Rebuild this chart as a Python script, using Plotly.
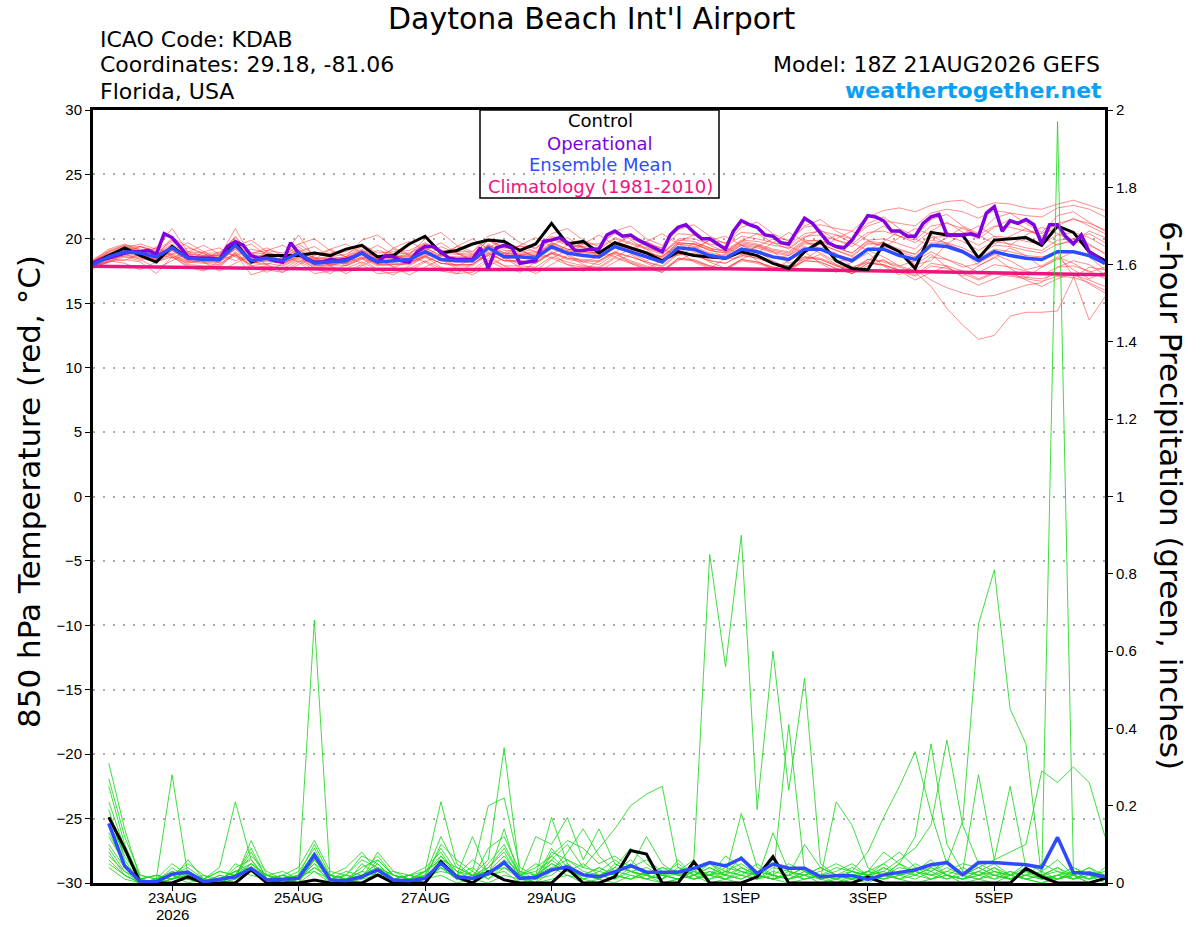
import pandas as pd
import plotly.graph_objects as go

# time axes: GEFS 6-hourly, operational GFS 3-hourly, both from 18Z 21AUG2026
times = pd.date_range("2026-08-21 18:00", periods=65, freq="6h")
times_3h = pd.date_range("2026-08-21 18:00", periods=129, freq="3h")
precip_times = times[1:]  # first 6-h accumulation ends at 00Z 22AUG

tick_dates = ["2026-08-23", "2026-08-25", "2026-08-27", "2026-08-29", "2026-09-01", "2026-09-03", "2026-09-05"]
tick_names = ["23AUG", "25AUG", "27AUG", "29AUG", "1SEP", "3SEP", "5SEP"]
year_label = "2026"

# 850 hPa temperature (C)
control_temp = [18.1,18.7,19.3,18.7,18.2,19.4,18.5,18.5,18.4,19.7, 18.2,18.7,18.7,18.7,18.9,18.7,19.2,19.5,18.6,18.7,
                19.6,20.2,18.9,19.1,19.6,19.9,19.8,19.1,19.6,21.2, 19.6,19.8,18.9,19.7,19.3,18.9,18.3,19.0,18.7,18.6,
                18.5,19.0,18.7,18.1,17.7,19.0,19.8,18.3,17.7,17.6, 19.6,19.0,17.7,20.5,20.3,20.3,18.5,19.9,20.0,20.1,
                19.5,21.0,20.5,19.0,18.3]
mean_temp = [18.0,18.6,19.0,18.9,18.6,19.3,18.5,18.4,18.4,19.5, 18.3,18.5,18.3,18.9,18.1,18.2,18.3,18.9,18.2,18.3,
             18.4,19.0,18.4,18.3,18.3,19.3,18.6,18.6,18.5,19.4, 18.9,18.7,18.6,19.4,19.0,18.6,18.2,19.3,19.2,18.7,
             18.5,19.2,19.0,18.6,18.4,19.2,19.2,18.7,18.3,19.2, 19.2,18.7,18.4,19.5,19.4,19.0,18.3,19.0,18.7,18.5,
             18.4,19.0,19.0,18.7,18.1]
climo_temp = [17.88,17.86,17.84,17.82,17.80,17.78,17.77,17.75,17.73,17.72, 17.70,17.69,17.68,17.67,17.66,17.65,17.64,17.63,17.62,17.62,
              17.61,17.61,17.60,17.60,17.60,17.61,17.61,17.62,17.63,17.64, 17.66,17.67,17.68,17.69,17.70,17.70,17.70,17.70,17.69,17.68,
              17.67,17.66,17.65,17.63,17.62,17.60,17.58,17.56,17.54,17.52, 17.50,17.48,17.46,17.44,17.42,17.40,17.38,17.36,17.34,17.32,
              17.30,17.28,17.26,17.24,17.22]
oper_temp = [18.1,18.4,18.5,18.7,18.9,19.0,19.0,19.1,18.8,20.4, 20.1,19.4,18.6,18.5,18.5,18.5,18.4,19.4,19.8,19.5,
             18.7,18.5,18.5,18.3,18.2,19.7,18.9,18.4,18.2,18.2, 18.4,18.3,18.4,18.6,18.9,18.5,18.2,18.7,18.6,18.3,
             18.2,19.0,19.4,19.4,19.0,18.5,18.4,18.4,18.4,19.3, 17.7,19.3,19.5,19.3,18.1,18.2,18.3,19.8,19.9,20.1,
             19.7,19.1,19.1,19.2,
             19.2,20.3,20.6,20.2,20.3,19.9,19.6,19.3,19.0,20.3, 20.9,21.1,20.5,20.0,20.0,19.6,19.2,20.6,21.4,21.1,
             20.9,20.3,20.2,19.7,19.6,20.6,21.6,21.2,20.5,19.7, 19.4,19.3,19.9,20.9,21.8,21.7,21.4,20.6,20.6,20.2,
             20.2,21.2,21.7,21.9,20.3,20.3,20.3,20.4,20.2,22.0, 22.5,20.6,21.4,21.2,21.5,21.1,19.6,21.1,21.1,20.2,
             19.6,20.3,19.0,18.6,18.1]

red_01 = [18.3,19.0,19.4,19.2,18.9,19.8,18.9,18.6,18.8,20.2,18.8,18.9,18.7,19.4,18.5,18.6,18.8,19.5,18.7,18.8,18.9,19.6,19.0,18.9,18.8,19.9,19.3,19.2,19.0,20.1,19.6,19.4,19.3,20.1,19.7,19.3,18.9,20.0,20.0,19.6,19.4,20.2,20.0,19.7,19.5,20.4,20.6,20.3,20.0,21.0,21.4,21.2,21.0,22.0,22.3,22.1,21.6,22.2,22.0,21.8,21.7,22.4,22.6,22.3,21.7]
red_02 = [17.8,18.3,18.7,18.6,18.3,18.9,18.2,18.1,18.0,19.0,17.9,18.1,17.9,18.4,17.8,17.9,17.9,18.5,17.9,18.0,18.0,18.6,18.1,17.9,17.9,18.8,18.3,18.2,18.1,18.9,18.5,18.3,18.2,18.9,18.6,18.2,17.8,18.8,18.7,18.3,18.1,18.8,18.5,18.1,17.9,18.6,18.5,18.0,17.7,18.4,18.2,17.8,17.4,16.3,14.6,13.3,12.2,12.5,14.0,14.3,14.3,14.4,17.0,17.8,17.6]
red_03 = [18.1,18.8,19.1,19.0,18.5,19.4,18.7,18.5,18.5,19.6,18.5,18.6,18.4,19.0,18.3,18.4,18.5,19.1,18.5,18.6,18.6,19.3,18.7,18.5,18.6,19.5,18.9,18.8,18.7,19.7,19.2,19.0,18.9,19.7,19.3,18.9,18.6,19.7,19.6,19.1,18.9,19.6,19.4,19.0,18.8,19.7,19.6,19.1,18.7,19.7,19.5,19.0,18.6,19.7,19.6,19.1,18.5,19.2,19.0,18.7,18.6,18.9,17.1,13.7,15.5]
red_04 = [17.9,18.4,18.8,18.7,18.4,19.1,18.3,18.2,18.2,19.2,18.1,18.3,18.1,18.6,17.9,18.0,18.1,18.6,18.0,18.0,18.1,18.7,18.1,18.0,18.0,18.9,18.3,18.3,18.2,19.0,18.5,18.4,18.3,19.0,18.6,18.2,17.9,18.9,18.8,18.3,18.1,18.7,18.5,18.1,17.9,18.6,18.4,17.9,17.6,18.2,17.9,17.6,17.6,16.8,16.2,15.8,15.5,15.6,16.0,16.4,16.6,17.8,18.3,18.0,17.2]
red_05 = [18.4,19.1,19.5,19.4,19.1,19.9,19.0,18.9,18.9,20.1,18.9,19.1,18.9,19.6,18.8,18.9,19.0,19.6,18.9,19.0,19.1,19.7,19.1,19.0,19.0,20.0,19.3,19.4,19.3,20.2,19.8,19.6,19.6,20.4,20.0,19.6,19.3,20.4,20.3,19.9,19.7,20.5,20.4,20.1,19.9,20.9,21.1,20.8,20.6,21.7,22.2,22.4,22.1,22.6,22.9,23.0,22.4,22.8,22.7,22.4,22.3,22.7,23.0,22.6,22.2]
red_06 = [18.2,18.9,19.3,19.1,18.8,19.6,18.8,18.7,18.7,19.8,18.6,18.8,18.6,19.2,18.4,18.5,18.6,19.2,18.5,18.6,18.7,19.3,18.7,18.6,18.6,19.6,18.9,18.9,18.8,19.7,19.2,19.0,18.9,19.8,19.4,19.0,18.6,19.7,19.6,19.1,18.9,19.7,19.5,19.1,18.9,19.8,19.9,19.3,18.9,19.9,20.0,19.6,19.2,20.4,20.5,20.1,19.5,20.2,20.1,19.8,19.6,20.3,20.5,20.1,19.4]
red_07 = [17.7,18.2,18.6,18.5,18.2,18.8,18.0,17.9,17.9,18.9,17.7,17.9,17.7,18.3,17.6,17.6,17.7,18.2,17.6,17.7,17.7,18.3,17.7,17.6,17.6,18.5,17.9,17.9,17.8,18.6,18.2,17.9,17.8,18.6,18.2,17.8,17.4,18.4,18.3,17.8,17.6,18.3,18.1,17.7,17.5,18.3,18.2,17.7,17.3,18.1,18.0,17.5,17.2,18.1,17.9,17.5,16.9,17.4,17.2,17.0,16.9,17.3,17.2,16.8,16.3]
red_08 = [18.3,18.8,19.3,19.6,19.2,20.8,19.0,18.7,18.6,20.8,18.6,18.7,18.6,20.3,18.5,18.4,18.6,19.4,18.5,18.6,18.8,19.6,18.9,18.8,18.7,19.9,19.1,19.0,18.9,20.0,19.5,19.3,19.2,20.0,19.6,19.2,18.8,19.9,19.8,19.3,19.0,19.8,19.6,19.2,19.0,19.9,19.8,19.3,18.9,19.8,19.7,19.2,18.8,19.9,19.7,19.3,18.7,19.5,19.4,19.1,18.9,19.6,19.8,19.5,18.9]
red_09 = [17.8,18.2,18.4,18.2,17.3,18.6,17.9,17.6,17.8,18.9,17.2,17.6,17.4,18.2,17.3,17.5,17.5,18.0,17.3,17.4,17.5,18.2,17.5,17.3,17.4,18.3,17.7,17.7,17.5,18.5,18.0,17.8,17.7,18.5,18.1,17.7,17.4,18.5,18.3,17.9,17.6,18.4,18.2,17.8,17.6,18.5,18.4,17.9,17.5,18.4,18.3,17.9,17.5,18.6,18.4,18.0,17.4,18.0,17.8,17.5,17.2,17.8,17.9,17.5,16.9]
red_10 = [18.0,18.7,19.2,19.0,18.7,19.5,18.6,18.6,18.5,19.7,18.4,18.7,18.4,19.0,18.2,18.3,18.5,19.1,18.4,18.5,18.6,19.2,18.5,18.4,18.5,19.5,18.8,18.8,18.7,19.6,19.1,18.9,18.8,19.6,19.2,18.8,18.4,19.6,19.4,18.9,18.7,19.5,19.3,18.9,18.7,19.6,19.6,19.1,18.6,19.6,19.6,19.1,18.8,20.1,20.2,19.8,19.1,19.8,19.6,19.3,19.1,19.9,20.0,19.6,18.8]
red_11 = [18.1,18.6,19.0,18.8,18.5,19.3,18.4,18.3,18.3,19.4,18.2,18.4,18.2,18.8,18.0,18.1,18.2,18.8,18.1,18.2,18.3,19.0,18.3,18.2,18.2,19.2,18.5,18.5,18.4,19.4,18.9,18.7,18.6,19.5,19.2,18.8,18.5,19.6,19.6,19.2,19.1,19.9,19.8,19.5,19.3,20.2,20.3,19.9,19.6,20.5,20.6,20.2,19.9,21.0,21.2,20.8,20.3,21.0,20.9,20.6,20.4,21.2,21.5,21.2,20.7]
red_12 = [17.9,18.5,18.9,18.8,18.4,19.1,18.3,18.2,18.2,19.3,18.1,18.3,18.1,18.7,17.9,18.0,18.1,18.6,18.0,18.1,18.1,18.7,18.1,18.0,18.0,18.9,18.3,18.3,18.1,18.9,18.4,18.2,18.0,18.8,18.3,17.9,17.5,18.5,18.4,17.9,17.7,18.4,18.2,17.8,17.6,18.3,18.2,17.7,17.3,18.1,18.0,17.5,17.1,17.9,17.7,17.3,16.8,17.3,17.1,16.9,16.7,17.1,17.0,16.6,16.0]
red_13 = [18.0,18.4,18.9,19.4,19.0,18.8,19.3,18.9,18.1,18.7,19.2,18.9,18.0,18.5,19.0,18.6,17.9,18.4,19.1,18.8,18.2,18.6,19.4,18.9,18.3,18.7,19.6,19.2,18.5,18.8,19.5,19.4,18.6,18.9,19.9,19.2,18.3,18.8,19.7,19.3,18.4,18.6,19.5,19.0,18.1,18.4,19.2,18.9,17.8,18.2,19.4,19.0,18.0,18.3,19.6,19.1,17.9,18.5,19.3,18.7,17.8,18.4,19.0,18.6,17.6]
red_14 = [18.2,18.9,18.6,18.3,19.4,18.7,18.2,19.0,19.3,18.6,18.0,19.1,19.5,18.8,18.4,19.2,19.6,18.9,18.3,19.3,19.8,19.1,18.6,19.4,20.0,19.2,18.7,19.5,20.1,19.4,18.8,19.6,20.3,19.5,19.0,19.8,20.4,19.6,19.1,19.9,20.2,19.5,18.9,19.7,20.5,19.8,19.2,20.0,20.6,19.9,19.3,20.1,20.8,20.3,19.6,20.4,21.0,20.2,19.5,20.3,20.9,20.4,19.8,20.6,20.1]
red_15 = [17.9,18.3,18.1,17.6,18.2,18.6,17.8,17.5,18.3,18.8,17.9,17.4,18.1,18.6,17.7,17.3,18.0,18.5,17.6,17.2,17.9,18.6,17.8,17.3,18.1,18.7,17.9,17.4,18.2,18.9,18.0,17.5,18.3,19.0,18.1,17.6,18.4,19.1,18.2,17.7,18.5,19.2,18.3,17.6,18.3,19.0,18.1,17.4,18.2,18.9,17.9,17.2,18.0,18.8,17.8,17.1,17.9,18.6,17.7,17.0,17.8,18.5,17.6,16.9,17.4]
red_16 = [18.3,19.2,19.6,19.1,18.6,20.1,19.4,18.8,18.7,19.4,19.9,19.0,18.5,19.6,20.0,19.1,18.6,19.9,20.3,19.3,18.8,20.0,20.5,19.5,19.0,20.2,20.6,19.7,19.2,20.4,20.8,19.9,19.4,20.6,21.0,20.0,19.5,20.7,21.1,20.2,19.6,20.9,21.3,20.4,19.8,21.0,21.5,20.6,20.0,21.2,21.7,20.8,20.2,21.5,21.9,21.0,20.4,21.6,22.0,21.2,20.5,21.8,22.1,21.3,20.6]
red_17 = [18.0,18.5,18.3,18.9,19.3,18.6,18.1,18.4,19.0,18.7,18.2,18.0,18.6,19.1,18.5,17.9,18.3,18.9,18.4,17.8,18.2,18.8,18.5,17.9,18.4,19.0,18.6,18.0,18.5,19.2,18.8,18.2,18.6,19.3,18.9,18.3,18.7,19.4,19.0,18.4,18.8,19.5,19.1,18.5,18.7,19.4,18.9,18.2,18.5,19.1,18.6,17.9,18.3,19.0,18.4,17.8,18.1,18.8,18.3,17.6,17.9,18.6,18.1,17.4,17.8]
red_18 = [18.2,19.0,19.5,18.8,18.3,19.1,19.7,19.0,18.4,19.2,19.6,18.7,18.2,19.0,19.4,18.6,18.1,18.9,19.5,18.8,18.3,19.1,19.7,18.9,18.4,19.3,19.9,19.1,18.6,19.5,20.1,19.3,18.8,19.6,20.2,19.4,18.9,19.8,20.3,19.5,19.0,19.8,20.4,19.7,19.2,20.1,20.7,19.9,19.4,20.3,21.0,20.2,19.7,20.6,21.3,20.5,20.0,20.9,21.5,20.8,20.2,21.0,21.6,21.0,20.4]
red_19 = [17.9,18.2,18.8,18.4,17.7,18.3,18.9,18.2,17.5,18.1,18.7,18.0,17.4,18.0,18.6,17.9,17.3,17.9,18.5,17.8,17.2,17.8,18.4,17.7,17.2,17.9,18.5,17.8,17.3,18.0,18.7,18.0,17.5,18.2,18.8,18.1,17.6,18.3,18.9,18.2,17.7,18.4,19.0,18.3,17.7,18.3,18.8,18.0,17.3,17.9,18.4,17.5,16.8,17.4,17.9,17.0,16.4,16.9,17.4,16.8,16.3,16.9,17.3,16.5,15.8]
red_20 = [18.1,18.6,19.1,19.4,18.9,18.5,19.0,19.5,18.8,18.3,18.8,19.3,18.7,18.2,18.7,19.2,18.6,18.1,18.6,19.2,18.7,18.2,18.8,19.4,18.8,18.3,18.9,19.5,19.0,18.5,19.1,19.7,19.1,18.6,19.2,19.8,19.2,18.7,19.3,19.9,19.3,18.8,19.4,20.0,19.4,18.9,19.6,20.3,19.7,19.1,19.8,20.6,20.0,19.4,20.1,20.9,20.3,19.6,20.2,20.8,20.1,19.5,20.0,20.4,19.7]

# 6-hour precipitation (inches), 00Z 22AUG .. 18Z 6SEP
control_precip = [0.17,0.09,0.0,0.0,0.0,0.016,0.0,0.0,0.0,0.034, 0.0,0.0,0.0,0.008,0.0,0.0,0.0,0.021,0.0,0.0,
                  0.0,0.055,0.016,0.0,0.029,0.008,0.0,0.0,0.0,0.038, 0.0,0.0,0.016,0.084,0.075,0.0,0.0,0.055,0.0,0.0,
                  0.0,0.016,0.068,0.0,0.0,0.0,0.0,0.0,0.015,0.0, 0.0,0.0,0.0,0.0,0.0,0.0,0.0,0.0,0.038,0.016,
                  0.0,0.0,0.0,0.012]
mean_precip = [0.154,0.044,0.003,0.003,0.023,0.028,0.003,0.010,0.016,0.038, 0.008,0.010,0.012,0.072,0.008,0.006,0.016,0.034,0.008,0.006,
               0.012,0.051,0.016,0.012,0.025,0.053,0.012,0.014,0.034,0.042, 0.021,0.016,0.029,0.045,0.028,0.028,0.028,0.038,0.053,0.044,
               0.064,0.025,0.049,0.038,0.038,0.016,0.019,0.019,0.009,0.021, 0.028,0.034,0.047,0.053,0.021,0.053,0.053,0.051,0.047,0.040,
               0.118,0.027,0.025,0.016]

green_01 = [0.12,0.05,0.00,0.01,0.03,0.02,0.00,0.00,0.02,0.04, 0.00,0.01,0.01,0.68,0.01,0.00,0.02,0.03,0.00,0.00, 0.01,0.05,0.01,0.00,0.02,0.06,0.00,0.00,0.03,0.04, 0.01,0.00,0.02,0.05,0.02,0.00,0.01,0.03,0.05,0.02, 0.07,0.01,0.04,0.03,0.02,0.00,0.01,0.00,0.02,0.03, 0.01,0.02,0.04,0.02,0.01,0.03,0.05,0.02,0.01,0.02, 0.04,0.01,0.02,0.00]
green_02 = [0.08,0.02,0.00,0.00,0.01,0.03,0.00,0.00,0.01,0.05, 0.01,0.00,0.01,0.05,0.00,0.00,0.01,0.02,0.01,0.00, 0.02,0.04,0.01,0.02,0.03,0.04,0.01,0.02,0.05,0.03, 0.02,0.01,0.04,0.03,0.02,0.01,0.03,0.06,0.85,0.56, 0.90,0.19,0.60,0.24,0.53,0.05,0.02,0.01,0.03,0.02, 0.05,0.03,0.02,0.01,0.03,0.02,0.04,0.01,0.02,0.03, 0.01,0.02,0.00,0.01]
green_03 = [0.25,0.10,0.01,0.00,0.01,0.02,0.01,0.00,0.04,0.06, 0.01,0.02,0.00,0.06,0.01,0.00,0.05,0.02,0.03,0.01, 0.00,0.07,0.03,0.01,0.05,0.10,0.02,0.00,0.08,0.06, 0.04,0.09,0.14,0.20,0.23,0.25,0.04,0.02,0.03,0.01, 0.02,0.05,0.02,0.01,0.03,0.01,0.00,0.02,0.01,0.04, 0.02,0.05,0.03,0.01,0.02,0.01,0.03,0.02,0.01,0.00, 0.02,0.01,0.03,0.01]
green_04 = [0.05,0.02,0.00,0.01,0.02,0.01,0.00,0.01,0.02,0.03, 0.02,0.00,0.01,0.04,0.02,0.01,0.02,0.04,0.01,0.00, 0.02,0.03,0.02,0.01,0.02,0.03,0.00,0.01,0.02,0.05, 0.01,0.02,0.01,0.03,0.04,0.02,0.01,0.02,0.04,0.02, 0.01,0.03,0.02,0.05,0.03,0.01,0.02,0.03,0.01,0.02, 0.04,0.03,0.06,0.02,0.01,0.03,0.02,0.01,0.02,0.01, 1.97,0.04,0.02,0.01]
green_05 = [0.19,0.06,0.00,0.00,0.04,0.01,0.00,0.02,0.01,0.03, 0.00,0.01,0.02,0.03,0.01,0.02,0.01,0.06,0.02,0.01, 0.00,0.04,0.01,0.03,0.01,0.05,0.02,0.01,0.04,0.02, 0.01,0.03,0.02,0.01,0.03,0.02,0.05,0.02,0.01,0.03, 0.02,0.01,0.03,0.02,0.01,0.02,0.04,0.03,0.02,0.05, 0.08,0.04,0.03,0.05,0.16,0.67,0.81,0.45,0.36,0.01, 0.02,0.01,0.03,0.02]
green_06 = [0.31,0.14,0.01,0.02,0.01,0.03,0.00,0.01,0.02,0.08, 0.01,0.00,0.02,0.07,0.01,0.00,0.02,0.05,0.01,0.00, 0.03,0.06,0.04,0.02,0.06,0.35,0.02,0.01,0.06,0.03, 0.02,0.04,0.02,0.01,0.03,0.02,0.01,0.03,0.02,0.01, 0.04,0.02,0.01,0.41,0.03,0.01,0.02,0.04,0.02,0.01, 0.03,0.02,0.04,0.02,0.01,0.02,0.03,0.01,0.02,0.01, 0.02,0.03,0.01,0.02]
green_07 = [0.15,0.08,0.02,0.01,0.28,0.02,0.00,0.01,0.03,0.05, 0.02,0.01,0.00,0.08,0.02,0.01,0.03,0.07,0.02,0.01, 0.02,0.09,0.03,0.02,0.04,0.08,0.01,0.02,0.17,0.05, 0.02,0.01,0.05,0.03,0.02,0.01,0.06,0.02,0.04,0.02, 0.01,0.03,0.02,0.01,0.02,0.04,0.02,0.01,0.03,0.02, 0.01,0.03,0.02,0.04,0.02,0.01,0.02,0.03,0.01,0.02, 0.01,0.03,0.02,0.01]
green_08 = [0.10,0.04,0.01,0.02,0.01,0.03,0.01,0.04,0.21,0.06, 0.01,0.02,0.01,0.06,0.02,0.01,0.04,0.06,0.02,0.01, 0.03,0.21,0.05,0.02,0.03,0.07,0.02,0.03,0.06,0.10, 0.04,0.03,0.06,0.03,0.01,0.02,0.03,0.01,0.02,0.04, 0.03,0.01,0.02,0.01,0.03,0.02,0.01,0.02,0.03,0.08, 0.05,0.02,0.01,0.03,0.02,0.04,0.02,0.01,0.03,0.02, 0.04,0.02,0.01,0.02]
green_09 = [0.07,0.03,0.00,0.01,0.02,0.01,0.02,0.00,0.01,0.04, 0.01,0.02,0.01,0.04,0.01,0.03,0.02,0.03,0.01,0.02, 0.01,0.05,0.02,0.06,0.03,0.05,0.02,0.04,0.07,0.03, 0.05,0.02,0.01,0.04,0.06,0.03,0.02,0.04,0.02,0.01, 0.03,0.02,0.01,0.02,0.04,0.02,0.01,0.03,0.02,0.01, 0.02,0.04,0.02,0.03,0.05,0.04,0.06,0.08,0.10,0.29, 0.26,0.30,0.26,0.12]
green_10 = [0.21,0.09,0.00,0.01,0.02,0.04,0.01,0.00,0.02,0.05, 0.02,0.01,0.03,0.09,0.01,0.02,0.01,0.08,0.03,0.02, 0.01,0.04,0.02,0.01,0.09,0.12,0.03,0.02,0.05,0.03, 0.02,0.01,0.03,0.02,0.01,0.03,0.02,0.01,0.03,0.02, 0.18,0.04,0.02,0.01,0.02,0.03,0.05,0.03,0.08,0.17, 0.25,0.34,0.18,0.05,0.02,0.04,0.02,0.01,0.03,0.02, 0.01,0.02,0.04,0.01]
green_11 = [0.04,0.01,0.00,0.00,0.01,0.02,0.00,0.01,0.03,0.02, 0.01,0.00,0.01,0.05,0.02,0.01,0.02,0.04,0.02,0.01, 0.02,0.12,0.04,0.02,0.02,0.14,0.01,0.02,0.04,0.06, 0.03,0.02,0.04,0.09,0.05,0.02,0.01,0.02,0.05,0.03, 0.02,0.01,0.13,0.03,0.02,0.01,0.21,0.15,0.04,0.02, 0.05,0.12,0.36,0.10,0.03,0.28,0.06,0.25,0.04,0.02, 0.01,0.03,0.02,0.01]
green_12 = [0.13,0.05,0.01,0.00,0.03,0.01,0.00,0.02,0.01,0.11, 0.02,0.01,0.02,0.08,0.01,0.02,0.06,0.04,0.02,0.01, 0.03,0.07,0.02,0.12,0.02,0.06,0.03,0.01,0.09,0.04, 0.02,0.04,0.02,0.01,0.02,0.04,0.02,0.01,0.02,0.03, 0.05,0.02,0.01,0.03,0.02,0.04,0.02,0.01,0.02,0.03, 0.06,0.09,0.15,0.37,0.15,0.05,0.03,0.02,0.04,0.02, 0.03,0.01,0.02,0.03]
green_13 = [0.09,0.03,0.01,0.02,0.01,0.06,0.01,0.03,0.02,0.07, 0.03,0.01,0.02,0.10,0.02,0.01,0.03,0.02,0.01,0.02, 0.04,0.08,0.02,0.01,0.04,0.09,0.02,0.12,0.10,0.17, 0.06,0.14,0.05,0.03,0.02,0.04,0.03,0.01,0.02,0.05, 0.03,0.02,0.01,0.02,0.04,0.02,0.01,0.03,0.02,0.01, 0.02,0.03,0.05,0.02,0.01,0.02,0.04,0.02,0.03,0.01, 0.02,0.04,0.02,0.01]
green_14 = [0.27,0.12,0.02,0.01,0.05,0.02,0.01,0.03,0.02,0.09, 0.01,0.02,0.04,0.11,0.03,0.02,0.07,0.05,0.01,0.02, 0.01,0.10,0.06,0.03,0.20,0.22,0.04,0.02,0.07,0.11, 0.09,0.05,0.07,0.04,0.12,0.05,0.02,0.03,0.01,0.02, 0.04,0.02,0.06,0.03,0.01,0.02,0.03,0.05,0.02,0.04, 0.02,0.01,0.03,0.06,0.02,0.03,0.01,0.02,0.05,0.03, 0.06,0.02,0.04,0.02]
green_15 = [0.06,0.02,0.00,0.01,0.02,0.00,0.01,0.00,0.05,0.03, 0.00,0.01,0.00,0.03,0.00,0.01,0.00,0.03,0.01,0.00, 0.01,0.02,0.00,0.01,0.00,0.02,0.01,0.00,0.01,0.02, 0.00,0.01,0.00,0.02,0.01,0.00,0.01,0.02,0.00,0.01, 0.00,0.02,0.01,0.00,0.01,0.02,0.00,0.01,0.00,0.02, 0.01,0.00,0.01,0.02,0.00,0.01,0.00,0.02,0.01,0.00, 0.01,0.02,0.00,0.01]
green_16 = [0.17,0.07,0.01,0.00,0.02,0.05,0.02,0.01,0.03,0.04, 0.02,0.03,0.01,0.06,0.02,0.04,0.08,0.03,0.01,0.02, 0.03,0.06,0.02,0.04,0.01,0.04,0.02,0.05,0.03,0.08, 0.14,0.07,0.03,0.06,0.02,0.01,0.04,0.03,0.02,0.07, 0.04,0.02,0.01,0.02,0.10,0.04,0.02,0.01,0.03,0.05, 0.02,0.03,0.01,0.02,0.04,0.02,0.01,0.03,0.02,0.05, 0.03,0.02,0.01,0.04]

red_members = [red_01, red_02, red_03, red_04, red_05, red_06, red_07, red_08, red_09, red_10,
               red_11, red_12, red_13, red_14, red_15, red_16, red_17, red_18, red_19, red_20]
green_members = [green_01, green_02, green_03, green_04, green_05, green_06, green_07, green_08,
                 green_09, green_10, green_11, green_12, green_13, green_14, green_15, green_16]

FONT = "DejaVu Sans, Verdana, sans-serif"
TICK_FONT = "Liberation Sans, Arial, Helvetica, sans-serif"
PURPLE = "#8000E0"
BLUE = "#2F4BFF"
PINK = "#EE1480"

fig = go.Figure()

# temperature ensemble members
for m in red_members:
    fig.add_trace(go.Scatter(x=times[:len(m)], y=m, mode="lines",
                             line=dict(color="rgba(255,50,50,0.55)", width=1), hoverinfo="skip"))

fig.add_trace(go.Scatter(x=times, y=climo_temp, mode="lines", line=dict(color=PINK, width=3.5)))
fig.add_trace(go.Scatter(x=times, y=control_temp, mode="lines", line=dict(color="black", width=3)))
fig.add_trace(go.Scatter(x=times_3h[:len(oper_temp)], y=oper_temp, mode="lines", line=dict(color=PURPLE, width=3.5)))
fig.add_trace(go.Scatter(x=times, y=mean_temp, mode="lines", line=dict(color=BLUE, width=3.5)))

# precipitation on the right axis
for m in green_members:
    fig.add_trace(go.Scatter(x=precip_times[:len(m)], y=m, mode="lines", yaxis="y2",
                             line=dict(color="rgba(30,215,30,0.85)", width=1), hoverinfo="skip"))
fig.add_trace(go.Scatter(x=precip_times, y=control_precip, mode="lines", yaxis="y2",
                         line=dict(color="black", width=3)))
fig.add_trace(go.Scatter(x=precip_times, y=mean_precip, mode="lines", yaxis="y2",
                         line=dict(color=BLUE, width=3.5)))

# plot area in screen pixels: 93..1105 wide, 110..883 tall
def px(x):
    return (x - 93) / 1012.0

def py(y):
    return (883 - y) / 773.0

notes = [
    ("Daytona Beach Int'l Airport", 591, 19, 30, "black", "center"),
    ("ICAO Code: KDAB", 98, 39, 22, "black", "left"),
    ("Coordinates: 29.18, -81.06", 98, 65, 22, "black", "left"),
    ("Florida, USA", 98, 92, 22, "black", "left"),
    ("Model: 18Z 21AUG2026 GEFS", 1102, 64, 22, "black", "right"),
    ("<b>weathertogether.net</b>", 1104, 90, 22, "#0BA0F5", "right"),
    ("Control", 600, 121, 18, "black", "center"),
    ("Operational", 600, 143, 18, PURPLE, "center"),
    ("Ensemble Mean", 600, 164, 18, BLUE, "center"),
    ("Climatology (1981-2010)", 600, 186, 18, PINK, "center"),
]
for text, x, y, size, color, anchor in notes:
    fig.add_annotation(text=text, x=px(x), y=py(y), xref="paper", yref="paper",
                       xanchor=anchor, yanchor="middle", showarrow=False,
                       font=dict(family=FONT, size=size, color=color))

# date labels under the ticks, with the year under the first one
for d, name in zip(tick_dates, tick_names):
    fig.add_annotation(text=name, x=d, y=py(897), xref="x", yref="paper",
                       xanchor="center", yanchor="middle", showarrow=False,
                       font=dict(family=TICK_FONT, size=15, color="black"))
fig.add_annotation(text=year_label, x=tick_dates[0], y=py(914), xref="x", yref="paper",
                   xanchor="center", yanchor="middle", showarrow=False,
                   font=dict(family=TICK_FONT, size=15, color="black"))

fig.add_annotation(text="850 hPa Temperature (red, \u00b0C)", x=px(29), y=py(492), xref="paper", yref="paper",
                   textangle=-90, showarrow=False, xanchor="center", yanchor="middle",
                   font=dict(family=FONT, size=31, color="black"))
fig.add_annotation(text="6-hour Precipitation (green, inches)", x=px(1171), y=py(495), xref="paper", yref="paper",
                   textangle=90, showarrow=False, xanchor="center", yanchor="middle",
                   font=dict(family=FONT, size=31, color="black"))

# legend box
fig.add_shape(type="rect", xref="paper", yref="paper", x0=px(480), x1=px(719), y0=py(198), y1=1.0,
              line=dict(color="black", width=1.5), fillcolor="white", layer="below")

fig.update_layout(
    width=1200, height=927,
    margin=dict(l=93, r=95, t=110, b=44),
    paper_bgcolor="white", plot_bgcolor="white",
    showlegend=False,
    font=dict(family=TICK_FONT, size=15, color="black"),
    xaxis=dict(type="date", range=[times[0], times[-1]], automargin=False,
               tickvals=tick_dates, showticklabels=False,
               ticks="outside", ticklen=5, tickcolor="black",
               showline=True, linecolor="black", linewidth=3, mirror=True,
               showgrid=False, zeroline=False),
    yaxis=dict(range=[-30, 30], dtick=5, automargin=False,
               ticks="outside", ticklen=5, tickcolor="black",
               showline=True, linecolor="black", linewidth=3, mirror=True,
               showgrid=True, gridcolor="#ABABAB", gridwidth=1.5, griddash="2px,8px",
               zeroline=False, tickfont=dict(size=15)),
    yaxis2=dict(range=[0, 2], dtick=0.2, overlaying="y", side="right", automargin=False,
                ticks="outside", ticklen=5, tickcolor="black",
                showline=True, linecolor="black", linewidth=3,
                showgrid=False, zeroline=False, tickfont=dict(size=15)),
)

# drop the default 8px page margin so the figure fills the window exactly
fig.write_html("out.html", config={"displayModeBar": False},
               post_script="document.body.style.margin = '0px';")
